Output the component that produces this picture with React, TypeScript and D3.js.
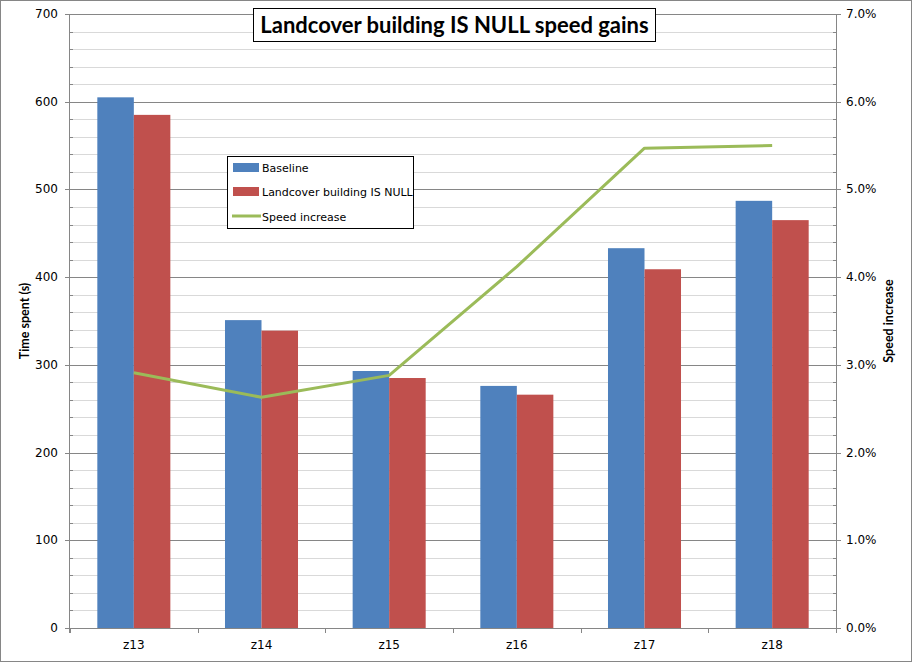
import React from "react";
import * as d3 from "d3";

const categories = ["z13", "z14", "z15", "z16", "z17", "z18"];
const baseline = [605, 351, 293, 276, 433, 487];
const landcoverNull = [585, 339, 285, 266, 409, 465];
const speedIncrease = [0.0291, 0.0263, 0.0288, 0.0412, 0.0547, 0.055];
const leftTicks = [0, 100, 200, 300, 400, 500, 600, 700];
const rightTicks = [0, 0.01, 0.02, 0.03, 0.04, 0.05, 0.06, 0.07];
const seriesNames = ["Baseline", "Landcover building IS NULL", "Speed increase"];

const W = 912;
const H = 662;
const L = 70;
const R = 836;
const T = 14;
const B = 628;
const BLUE = "#4F81BD";
const RED = "#C0504D";
const GREEN = "#9BBB59";
const AXIS = "#868686";
const MINOR = "#D9D9D9";
const FONT = "Verdana, 'DejaVu Sans', sans-serif";
const BOLD = "Lato, 'Open Sans', sans-serif";

export default function App() {
  const x = d3.scaleBand<string>().domain(categories).range([L, R]).padding(0);
  const bw = x.bandwidth();
  const xi = d3
    .scaleBand<string>()
    .domain(["b", "l"])
    .range([bw * 0.214, bw * 0.786])
    .padding(0);
  const y = d3.scaleLinear().domain([0, 700]).range([B, T]);
  const y2 = d3.scaleLinear().domain([0, 0.07]).range([B, T]);
  const minorTicks = d3.range(0, 701, 20).filter((v) => v % 100 !== 0);
  const fmtPct = d3.format(".1%");

  const line = d3
    .line<number>()
    .x((_, i) => (x(categories[i]) as number) + bw / 2)
    .y((d) => y2(d));

  return (
    <svg width={W} height={H} style={{ position: "absolute", left: 0, top: 0 }}>
      <rect x={0.5} y={0.5} width={W - 1} height={H - 1} fill="#fff" stroke={AXIS} strokeWidth={1} />
      {/* minor grid */}
      {minorTicks.map((v) => (
        <line key={"m" + v} x1={L} x2={R} y1={Math.round(y(v)) + 0.5} y2={Math.round(y(v)) + 0.5} stroke={MINOR} />
      ))}
      {/* major grid */}
      {leftTicks.map((v) => (
        <line key={"g" + v} x1={L} x2={R} y1={Math.round(y(v)) + 0.5} y2={Math.round(y(v)) + 0.5} stroke={AXIS} />
      ))}
      {/* bars */}
      {categories.map((c, i) => (
        <g key={c}>
          <rect x={(x(c) as number) + (xi("b") as number)} y={y(baseline[i])} width={xi.bandwidth()} height={B - y(baseline[i])} fill={BLUE} />
          <rect x={(x(c) as number) + (xi("l") as number)} y={y(landcoverNull[i])} width={xi.bandwidth()} height={B - y(landcoverNull[i])} fill={RED} />
        </g>
      ))}
      {/* line */}
      <path d={line(speedIncrease) || ""} fill="none" stroke={GREEN} strokeWidth={3} strokeLinejoin="round" />
      {/* left axis */}
      <line x1={L - 0.5} x2={L - 0.5} y1={T} y2={B + 5} stroke={AXIS} />
      {leftTicks.map((v) => (
        <g key={"lt" + v}>
          <line x1={L - 5} x2={L} y1={Math.round(y(v)) + 0.5} y2={Math.round(y(v)) + 0.5} stroke={AXIS} />
          <text x={58} y={y(v) + 4} textAnchor="end" fontFamily={FONT} fontSize={12} fill="#000">
            {v}
          </text>
        </g>
      ))}
      {minorTicks.map((v) => (
        <line key={"lm" + v} x1={L} x2={L + 3} y1={Math.round(y(v)) + 0.5} y2={Math.round(y(v)) + 0.5} stroke={AXIS} />
      ))}
      {/* right axis */}
      <line x1={R + 0.5} x2={R + 0.5} y1={T} y2={B + 5} stroke={AXIS} />
      {rightTicks.map((v) => (
        <g key={"rt" + v}>
          <line x1={R} x2={R + 5} y1={Math.round(y2(v)) + 0.5} y2={Math.round(y2(v)) + 0.5} stroke={AXIS} />
          <text x={846} y={y2(v) + 4} textAnchor="start" fontFamily={FONT} fontSize={12} fill="#000">
            {fmtPct(v)}
          </text>
        </g>
      ))}
      {minorTicks.map((v) => (
        <line key={"rm" + v} x1={R - 3} x2={R} y1={Math.round(y(v)) + 0.5} y2={Math.round(y(v)) + 0.5} stroke={AXIS} />
      ))}
      {/* bottom axis */}
      <line x1={L} x2={R} y1={B + 0.5} y2={B + 0.5} stroke={AXIS} />
      {categories.map((c) => (
        <line key={"bt" + c} x1={Math.round(x(c) as number) + 0.5} x2={Math.round(x(c) as number) + 0.5} y1={B} y2={B + 5} stroke={AXIS} />
      ))}
      <line x1={R + 0.5} x2={R + 0.5} y1={B} y2={B + 5} stroke={AXIS} />
      {categories.map((c) => (
        <text key={"bl" + c} x={(x(c) as number) + bw / 2} y={649} textAnchor="middle" fontFamily={FONT} fontSize={12} fill="#000">
          {c}
        </text>
      ))}
      {/* axis titles */}
      <text transform={`translate(29,${(T + B) / 2}) rotate(-90)`} textAnchor="middle" fontFamily={BOLD} fontWeight="bold" fontSize={12.5} fill="#000">
        Time spent (s)
      </text>
      <text transform={`translate(893,${(T + B) / 2}) rotate(-90)`} textAnchor="middle" fontFamily={BOLD} fontWeight="bold" fontSize={12.5} fill="#000">
        Speed increase
      </text>
      {/* title */}
      <rect x={253.5} y={8.5} width={402} height={33} fill="#fff" stroke="#000" strokeWidth={1} />
      <text x={454.5} y={33} textAnchor="middle" fontFamily={BOLD} fontWeight="bold" fontSize={22} fill="#000">
        Landcover building IS NULL speed gains
      </text>
      {/* legend */}
      <rect x={227.5} y={156.5} width={186} height={72} fill="#fff" stroke="#000" strokeWidth={1} />
      <rect x={233} y={163} width={26} height={9} fill={BLUE} />
      <rect x={233} y={187} width={26} height={9} fill={RED} />
      <line x1={232} x2={261} y1={216} y2={216} stroke={GREEN} strokeWidth={3} />
      {seriesNames.map((s, i) => (
        <text key={s} x={262} y={171.5 + i * 24.5} fontFamily={FONT} fontSize={11} fill="#000">
          {s}
        </text>
      ))}
    </svg>
  );
}
